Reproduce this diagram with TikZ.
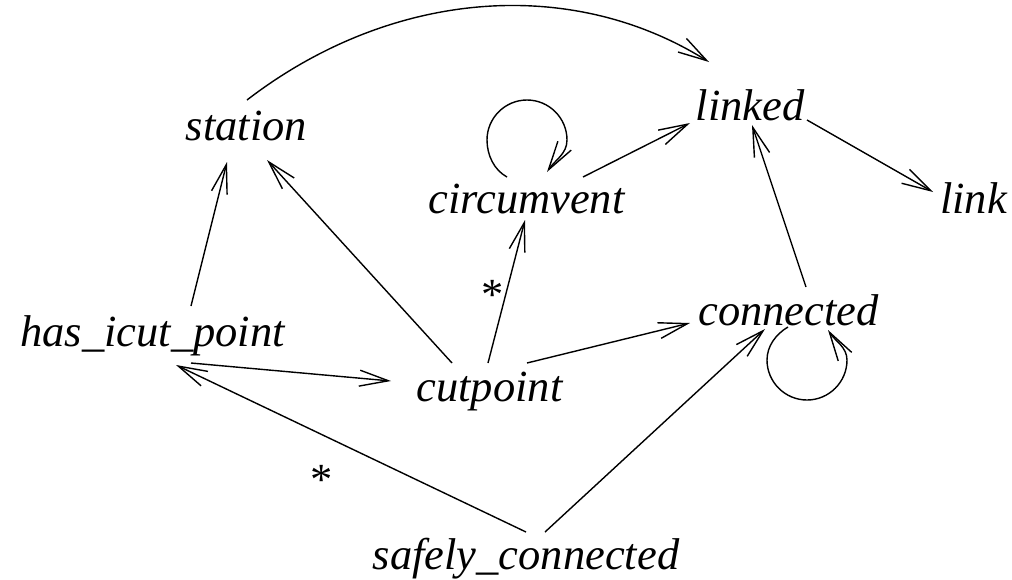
\documentclass[tikz,border=0pt]{standalone}
\usepackage{fontspec}
\setmainfont{Liberation Serif}
\usetikzlibrary{arrows.meta,calc}

\tikzset{
  term/.style={inner sep=0pt, anchor=base, font=\itshape\fontsize{44.5}{50}\selectfont},
  starlbl/.style={inner sep=0pt, anchor=base, font=\fontsize{44.5}{50}\selectfont},
  edge/.style={line width=1.4pt},
  arr/.style={edge, -{Straight Barb[length=29pt,width=16pt,line width=1.4pt]}},
}

\begin{document}
\begin{tikzpicture}[x=1pt, y=-1pt]
  \useasboundingbox (0,0) rectangle (1012,579);

  % terms
  \node[term] (station)   at (246.5,140) {station};
  \node[term] (linked)    at (750,120)   {linked};
  \node[term] (link)      at (973.5,213) {link};
  \node[term] (circ)      at (526.5,213) {circumvent};
  \node[term] (hasicut)   at (152.5,346) {has\_icut\_point};
  \node[term] (connected) at (788.5,325) {connected};
  \node[term] (cutpoint)  at (489.5,401) {cutpoint};
  \node[term] (safely)    at (526,569)   {safely\_connected};

  % repetition marks
  \node[starlbl] (star1) at (493,309) {*};
  \node[starlbl] (star2) at (322,494) {*};

  % arc over the top
  \draw[arr] ($(station.base)+(0.5,-40)$)
    .. controls (390,-10) and (570,-25) .. ($(linked.base)+(-41,-58)$);

  % loop above circumvent (centre about 40pt above the word)
  \coordinate (cvl) at ($(circ.base)+(-39.5,-73)$);
  \coordinate (cvt) at ($(circ.base)+(0.5,-113)$);
  \coordinate (cvr) at ($(circ.base)+(40.5,-73)$);
  \draw[edge] ($(circ.base)+(-19.5,-36)$)
    .. controls +(-13,-7) and +(0,15) .. (cvl)
    .. controls +(0,-22) and +(-22,0) .. (cvt)
    .. controls +(22,0) and +(0,-22) .. (cvr);
  \draw[arr] (cvr)
    .. controls +(0,14) and +(8,-12) .. ($(circ.base)+(20.5,-41)$);

  % loop below connected
  \coordinate (cnl) at ($(connected.base)+(-21.5,35)$);
  \coordinate (cnb) at ($(connected.base)+(18.5,75)$);
  \coordinate (cnr) at ($(connected.base)+(58.5,35)$);
  \draw[edge] ($(connected.base)+(-0.5,2)$)
    .. controls +(-12,7) and +(0,-14) .. (cnl)
    .. controls +(0,22) and +(-22,0) .. (cnb)
    .. controls +(22,0) and +(0,22) .. (cnr);
  \draw[arr] (cnr)
    .. controls +(0,-13) and +(7,11) .. ($(connected.base)+(39.5,5)$);

  % straight dependencies
  \draw[arr] ($(circ.base)+(56.5,-36)$) -- ($(linked.base)+(-60,3)$);
  \draw[arr] ($(linked.base)+(57,0)$) -- ($(link.base)+(-40.5,-21)$);
  \draw[arr] ($(connected.base)+(17.5,-38)$) -- ($(linked.base)+(2,5)$);
  \draw[arr] ($(hasicut.base)+(38.5,-40)$) -- ($(station.base)+(-19.5,22)$);
  \draw[arr] ($(cutpoint.base)+(-37.5,-38)$) -- ($(station.base)+(20.5,20)$);
  \draw[arr] ($(cutpoint.base)+(-1.5,-38)$) -- ($(circ.base)+(-1.5,7)$);
  \draw[arr] ($(hasicut.base)+(38.5,17)$) -- ($(cutpoint.base)+(-98.5,-20)$);
  \draw[arr] ($(cutpoint.base)+(37.5,-38)$) -- ($(connected.base)+(-98.5,-2)$);
  \draw[arr] ($(safely.base)+(19,-37)$) -- ($(connected.base)+(-23.5,4)$);
  \draw[arr] ($(safely.base)+(0,-37)$) -- ($(hasicut.base)+(23.5,19)$);
\end{tikzpicture}
\end{document}
